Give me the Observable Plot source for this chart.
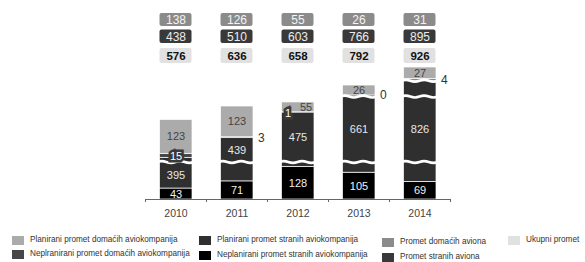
<!DOCTYPE html>
<html><head><meta charset="utf-8">
<script src="https://cdn.jsdelivr.net/npm/d3@7"></script>
<script src="https://cdn.jsdelivr.net/npm/@observablehq/plot@0.6"></script>
<style>
body{margin:0;background:#fff;font-family:"Liberation Sans",Arial,sans-serif;}
#chart{position:relative;width:585px;height:262px;overflow:hidden;}
#chart svg{position:absolute;left:0;top:0;}
.lg{position:absolute;display:flex;align-items:center;font-size:8.2px;color:#333;white-space:nowrap;line-height:10px;}
.sw{width:12px;height:9px;margin-right:6px;flex:none;}
</style></head><body><div id="chart"></div>
<script>
// ---- data ----
const years = [2010, 2011, 2012, 2013, 2014];
const unplannedForeign = [43, 71, 128, 105, 69];     // Neplanirani promet stranih aviokompanija
const plannedForeign = [395, 439, 475, 661, 826];    // Planirani promet stranih aviokompanija
const unplannedDomestic = [15, 3, 1, 0, 4];          // Neplranirani promet domaćih aviokompanija
const plannedDomestic = [123, 123, 55, 26, 27];      // Planirani promet domaćih aviokompanija
const domesticAircraft = [138, 126, 55, 26, 31];     // Promet domaćih aviona
const foreignAircraft = [438, 510, 603, 766, 895];   // Promet stranih aviona
const totalTraffic = [576, 636, 658, 792, 926];      // Ukupni promet
const seriesNames = [
  "Planirani promet domaćih aviokompanija",
  "Neplranirani promet domaćih aviokompanija",
  "Planirani promet stranih aviokompanija",
  "Neplanirani promet stranih aviokompanija",
  "Promet domaćih aviona",
  "Promet stranih aviona",
  "Ukupni promet"
];
const seriesColors = ["#ababab", "#474747", "#2f2f2f", "#000000", "#8b8b8b", "#393939", "#e1e1e1"];
// axis breaks (value on the broken axis, per bar)
const breakYears = [2010, 2011, 2012, 2013, 2013, 2014, 2014, 2014];
const breakValues = [280, 280, 280, 280, 750, 280, 750, 890];

// ---- broken (piecewise) y axis ----
const yDomain = [0, 145, 425, 603, 658, 766, 792, 895, 926];
const yRange = [199, 162, 161, 112, 102, 95, 85, 80, 67];
const ys = d3.scaleLinear(yDomain, yRange);
const mid = (a, b) => ys.invert((ys(a) + ys(b)) / 2);

const stackOrder = [seriesNames[3], seriesNames[2], seriesNames[1], seriesNames[0]];
const segs = [];
years.forEach((yr, i) => {
  segs.push({year: yr, series: seriesNames[3], value: unplannedForeign[i]});
  segs.push({year: yr, series: seriesNames[2], value: plannedForeign[i]});
  segs.push({year: yr, series: seriesNames[1], value: unplannedDomestic[i]});
  segs.push({year: yr, series: seriesNames[0], value: plannedDomestic[i]});
});
const breaks = breakYears.map((yr, i) => ({year: yr, value: breakValues[i]}));

const rows = years.map((yr, i) => {
  const a = unplannedForeign[i], b = a + plannedForeign[i], c = b + unplannedDomestic[i], d = c + plannedDomestic[i];
  const bs = breaks.filter(k => k.year === yr && k.value > a && k.value < b).map(k => k.value).sort((p, q) => p - q);
  const edges = [a, ...bs, b];
  let best = 0, bestH = -1;
  for (let j = 0; j < edges.length - 1; j++) {
    const h = ys(edges[j]) - ys(edges[j + 1]);
    if (h > bestH) { bestH = h; best = j; }
  }
  return {year: yr, i,
    blackY: mid(0, a), darkY: mid(edges[best], edges[best + 1]),
    udY: mid(b, c), pdY: mid(c, d)};
});
// label placement (style)
const udPlace = ["in", "out", "in", "out", "out"];
const pdDx = [0, 0, 8, 0, 0];
const udDx = [0, 21, -10, 21, 21];

const font = "Liberation Sans, Arial, sans-serif";
const W = 585, H = 226;
const inset = 14;

const pdLabels = rows.map(r => Plot.text([r], {x: "year", y: "pdY", text: d => plannedDomestic[d.i], dx: pdDx[r.i], fill: "#444", fontSize: 11}));
const udLabels = rows.map(r => udPlace[r.i] === "in"
  ? Plot.text([r], {x: "year", y: "udY", text: d => unplannedDomestic[d.i], dx: udDx[r.i], dy: 1, fill: "#fff", fontSize: 11,
      stroke: "#3a3a3a", strokeWidth: 5, strokeLinejoin: "miter"})
  : Plot.text([r], {x: "year", y: "udY", text: d => unplannedDomestic[d.i], dx: udDx[r.i], fill: "#333", fontSize: 12, textAnchor: "start"}));

const plot = Plot.plot({
  width: W, height: H,
  marginLeft: 145, marginRight: 135, marginTop: 0, marginBottom: 26,
  style: {fontFamily: font, background: "transparent"},
  x: {type: "band", domain: years, padding: 0, axis: null},
  y: {type: "linear", domain: yDomain, range: yRange, axis: null},
  color: {domain: seriesNames, range: seriesColors},
  marks: [
    // top boxes
    Plot.cell(years, {x: d => d, fill: seriesColors[4], insetTop: 13, insetBottom: 174, insetLeft: 14.5, insetRight: 14.5, rx: 2}),
    Plot.cell(years, {x: d => d, fill: seriesColors[5], insetTop: 29.5, insetBottom: 157, insetLeft: 14.5, insetRight: 14.5, rx: 2}),
    Plot.cell(years, {x: d => d, fill: seriesColors[6], insetTop: 48, insetBottom: 137, insetLeft: 14.5, insetRight: 14.5, rx: 2}),
    Plot.text(rows, {x: "year", text: d => domesticAircraft[d.i], frameAnchor: "top", lineAnchor: "middle", dy: 19.5, fill: "#f4f4f4", fontSize: 12}),
    Plot.text(rows, {x: "year", text: d => foreignAircraft[d.i], frameAnchor: "top", lineAnchor: "middle", dy: 36.5, fill: "#ececec", fontSize: 12}),
    Plot.text(rows, {x: "year", text: d => totalTraffic[d.i], frameAnchor: "top", lineAnchor: "middle", dy: 56, fill: "#111", fontSize: 11.5, fontWeight: "bold"}),
    // stacked bars
    Plot.barY(segs, {x: "year", y: "value", fill: "series", order: stackOrder, insetLeft: inset + 0.5, insetRight: inset, stroke: "white", strokeWidth: 0.7}),
    // axis breaks
    Plot.tickY(breaks, {x: "year", y: "value", stroke: "white", strokeWidth: 2.6, insetLeft: 12, insetRight: 12}),
    // baseline & ticks
    Plot.ruleY([0], {stroke: "#666", strokeWidth: 1}),
    Plot.ruleX(years, {x: d => d, dx: -30.5, y1: 0, y2: 0, stroke: "#666"}),
    Plot.ruleX([years[years.length - 1]], {x: d => d, dx: 30.5, y1: 0, y2: 0, stroke: "#666"}),
    // segment labels
    Plot.text(rows, {x: "year", y: "blackY", text: d => unplannedForeign[d.i], fill: "#f0f0f0", fontSize: 11}),
    Plot.text(rows, {x: "year", y: "darkY", text: d => plannedForeign[d.i], fill: "#e8e8e8", fontSize: 11}),
    ...pdLabels,
    ...udLabels,
    // year labels
    Plot.text(years, {x: d => d, text: d => String(d), frameAnchor: "bottom", lineAnchor: "middle", dy: 13, fill: "#444", fontSize: 10.5})
  ]
});

const svg = plot;
const chart = document.getElementById("chart");
chart.appendChild(svg);

// boundary ticks under the axis
svg.querySelectorAll('g[aria-label="rule"] line').forEach(l => {
  if (l.getAttribute("x1") === l.getAttribute("x2") && l.getAttribute("y1") === l.getAttribute("y2")) {
    l.setAttribute("y2", +l.getAttribute("y1") + 3);
  }
});
// wavy break lines
svg.querySelectorAll('g[aria-label="tick"] line').forEach(l => {
  const x1 = +l.getAttribute("x1"), x2 = +l.getAttribute("x2"), y = +l.getAttribute("y1");
  const w = x2 - x1, a = 1.8;
  const p = document.createElementNS("http://www.w3.org/2000/svg", "path");
  p.setAttribute("d", `M${x1},${y} Q${x1 + w / 8},${y - a} ${x1 + w / 4},${y} T${x1 + w / 2},${y} T${x1 + 3 * w / 4},${y} T${x2},${y}`);
  p.setAttribute("fill", "none");
  l.replaceWith(p);
});

// legend
const legend = [
  {s: 0, x: 12, y: 240}, {s: 1, x: 12, y: 254},
  {s: 2, x: 199, y: 240}, {s: 3, x: 199, y: 255},
  {s: 4, x: 382, y: 242}, {s: 5, x: 382, y: 257},
  {s: 6, x: 508, y: 240}
];
legend.forEach(L => {
  const div = document.createElement("div");
  div.className = "lg";
  div.style.left = L.x + "px";
  div.style.top = (L.y - 5) + "px";
  div.innerHTML = `<span class="sw" style="background:${seriesColors[L.s]}"></span><span>${seriesNames[L.s]}</span>`;
  chart.appendChild(div);
});
</script></body></html>
